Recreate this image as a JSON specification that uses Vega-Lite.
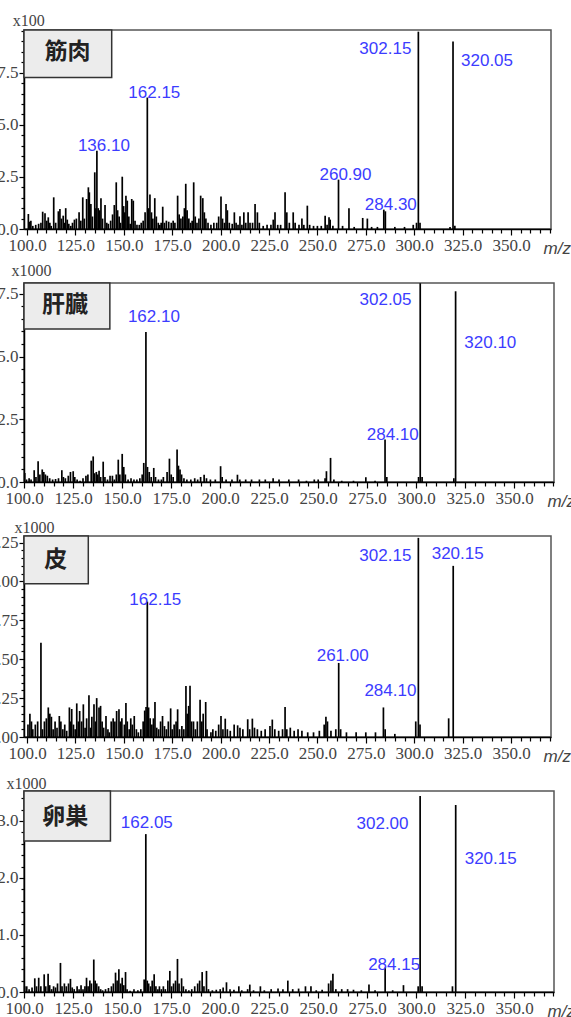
{
  "$schema": "https://vega.github.io/schema/vega-lite/v6.json",
  "padding": {"left": -13, "top": 11, "right": 0, "bottom": 0},
  "bounds": "flush",
  "spacing": 54,
  "config": {
    "view": {"stroke": "#555", "strokeWidth": 1.5},
    "axis": {"grid": false, "domainColor": "#000", "domainWidth": 1.5, "tickColor": "#000", "tickWidth": 1.2,
      "labelFont": "Liberation Sans Narrow", "labelFontSize": 17, "labelColor": "#444", "labelOverlap": false, "labelFlush": false,
      "titleFont": "Liberation Sans Narrow", "titleFontSize": 16, "titleFontWeight": "normal", "titleColor": "#444"},
    "text": {"font": "Liberation Sans", "fontSize": 17, "color": "#3c3cff"}
  },
  "datasets": {
    "peaks": [
      {"tissue":"筋肉","mz":100.7,"intensity":0.72},{"tissue":"筋肉","mz":101.3,"intensity":0.35},{"tissue":"筋肉","mz":102.0,"intensity":0.40},{"tissue":"筋肉","mz":103.0,"intensity":0.15},{"tissue":"筋肉","mz":104.5,"intensity":0.2},{"tissue":"筋肉","mz":106.0,"intensity":0.25},{"tissue":"筋肉","mz":107.2,"intensity":0.3},{"tissue":"筋肉","mz":108.1,"intensity":0.83},{"tissue":"筋肉","mz":109.3,"intensity":0.75},{"tissue":"筋肉","mz":110.2,"intensity":0.4},{"tissue":"筋肉","mz":111.0,"intensity":0.56},{"tissue":"筋肉","mz":111.8,"intensity":0.3},{"tissue":"筋肉","mz":112.5,"intensity":0.15},{"tissue":"筋肉","mz":113.8,"intensity":1.52},{"tissue":"筋肉","mz":114.8,"intensity":0.3},{"tissue":"筋肉","mz":116.2,"intensity":0.85},{"tissue":"筋肉","mz":117.0,"intensity":0.96},{"tissue":"筋肉","mz":117.8,"intensity":0.5},{"tissue":"筋肉","mz":118.7,"intensity":0.64},{"tissue":"筋肉","mz":119.4,"intensity":0.3},{"tissue":"筋肉","mz":120.0,"intensity":1.0},{"tissue":"筋肉","mz":120.8,"intensity":0.45},{"tissue":"筋肉","mz":121.6,"intensity":0.25},{"tissue":"筋肉","mz":122.6,"intensity":0.15},{"tissue":"筋肉","mz":123.5,"intensity":0.3},{"tissue":"筋肉","mz":124.5,"intensity":0.45},{"tissue":"筋肉","mz":125.5,"intensity":0.5},{"tissue":"筋肉","mz":126.9,"intensity":0.8},{"tissue":"筋肉","mz":127.8,"intensity":0.4},{"tissue":"筋肉","mz":128.8,"intensity":1.52},{"tissue":"筋肉","mz":129.6,"intensity":0.5},{"tissue":"筋肉","mz":130.8,"intensity":1.44},{"tissue":"筋肉","mz":131.7,"intensity":2.0},{"tissue":"筋肉","mz":132.2,"intensity":1.76},{"tissue":"筋肉","mz":133.0,"intensity":1.2},{"tissue":"筋肉","mz":133.8,"intensity":0.6},{"tissue":"筋肉","mz":135.0,"intensity":2.72},{"tissue":"筋肉","mz":135.6,"intensity":1.0},{"tissue":"筋肉","mz":136.1,"intensity":3.76},{"tissue":"筋肉","mz":136.8,"intensity":1.0},{"tissue":"筋肉","mz":137.5,"intensity":0.9},{"tissue":"筋肉","mz":138.2,"intensity":1.48},{"tissue":"筋肉","mz":139.0,"intensity":0.5},{"tissue":"筋肉","mz":140.3,"intensity":1.15},{"tissue":"筋肉","mz":141.2,"intensity":0.3},{"tissue":"筋肉","mz":142.0,"intensity":0.25},{"tissue":"筋肉","mz":143.2,"intensity":0.4},{"tissue":"筋肉","mz":144.2,"intensity":0.7},{"tissue":"筋肉","mz":145.1,"intensity":1.15},{"tissue":"筋肉","mz":146.1,"intensity":2.24},{"tissue":"筋肉","mz":146.8,"intensity":0.9},{"tissue":"筋肉","mz":147.6,"intensity":0.6},{"tissue":"筋肉","mz":148.3,"intensity":0.3},{"tissue":"筋肉","mz":149.2,"intensity":2.51},{"tissue":"筋肉","mz":149.9,"intensity":1.1},{"tissue":"筋肉","mz":150.5,"intensity":0.8},{"tissue":"筋肉","mz":151.1,"intensity":1.6},{"tissue":"筋肉","mz":151.8,"intensity":1.36},{"tissue":"筋肉","mz":152.6,"intensity":0.6},{"tissue":"筋肉","mz":153.3,"intensity":0.25},{"tissue":"筋肉","mz":154.1,"intensity":1.44},{"tissue":"筋肉","mz":154.9,"intensity":1.36},{"tissue":"筋肉","mz":155.8,"intensity":0.4},{"tissue":"筋肉","mz":156.8,"intensity":0.2},{"tissue":"筋肉","mz":158.0,"intensity":0.2},{"tissue":"筋肉","mz":159.0,"intensity":0.3},{"tissue":"筋肉","mz":160.0,"intensity":0.4},{"tissue":"筋肉","mz":161.0,"intensity":0.8},{"tissue":"筋肉","mz":162.15,"intensity":6.31},{"tissue":"筋肉","mz":162.8,"intensity":1.0},{"tissue":"筋肉","mz":163.5,"intensity":1.65},{"tissue":"筋肉","mz":164.3,"intensity":0.8},{"tissue":"筋肉","mz":165.0,"intensity":0.5},{"tissue":"筋肉","mz":166.0,"intensity":1.48},{"tissue":"筋肉","mz":166.8,"intensity":0.6},{"tissue":"筋肉","mz":167.8,"intensity":0.3},{"tissue":"筋肉","mz":168.6,"intensity":0.2},{"tissue":"筋肉","mz":169.3,"intensity":0.3},{"tissue":"筋肉","mz":170.1,"intensity":1.07},{"tissue":"筋肉","mz":171.0,"intensity":0.3},{"tissue":"筋肉","mz":172.0,"intensity":0.4},{"tissue":"筋肉","mz":173.2,"intensity":0.35},{"tissue":"筋肉","mz":174.5,"intensity":0.3},{"tissue":"筋肉","mz":175.5,"intensity":0.4},{"tissue":"筋肉","mz":176.4,"intensity":0.3},{"tissue":"筋肉","mz":177.8,"intensity":1.6},{"tissue":"筋肉","mz":178.6,"intensity":0.7},{"tissue":"筋肉","mz":179.5,"intensity":0.5},{"tissue":"筋肉","mz":180.5,"intensity":0.6},{"tissue":"筋肉","mz":181.3,"intensity":1.0},{"tissue":"筋肉","mz":182.0,"intensity":2.17},{"tissue":"筋肉","mz":182.7,"intensity":0.9},{"tissue":"筋肉","mz":183.6,"intensity":0.5},{"tissue":"筋肉","mz":184.5,"intensity":0.3},{"tissue":"筋肉","mz":185.3,"intensity":0.4},{"tissue":"筋肉","mz":186.1,"intensity":2.24},{"tissue":"筋肉","mz":186.9,"intensity":0.6},{"tissue":"筋肉","mz":187.8,"intensity":0.3},{"tissue":"筋肉","mz":188.8,"intensity":0.5},{"tissue":"筋肉","mz":189.7,"intensity":1.6},{"tissue":"筋肉","mz":190.8,"intensity":1.48},{"tissue":"筋肉","mz":191.6,"intensity":0.8},{"tissue":"筋肉","mz":192.4,"intensity":0.5},{"tissue":"筋肉","mz":193.5,"intensity":0.3},{"tissue":"筋肉","mz":195.0,"intensity":0.2},{"tissue":"筋肉","mz":196.5,"intensity":0.3},{"tissue":"筋肉","mz":198.0,"intensity":0.3},{"tissue":"筋肉","mz":199.0,"intensity":0.6},{"tissue":"筋肉","mz":200.2,"intensity":1.56},{"tissue":"筋肉","mz":201.0,"intensity":0.5},{"tissue":"筋肉","mz":202.0,"intensity":0.3},{"tissue":"筋肉","mz":202.8,"intensity":1.2},{"tissue":"筋肉","mz":203.5,"intensity":0.9},{"tissue":"筋肉","mz":204.5,"intensity":0.3},{"tissue":"筋肉","mz":206.0,"intensity":0.25},{"tissue":"筋肉","mz":207.1,"intensity":0.8},{"tissue":"筋肉","mz":208.0,"intensity":0.3},{"tissue":"筋肉","mz":209.0,"intensity":0.2},{"tissue":"筋肉","mz":210.0,"intensity":0.61},{"tissue":"筋肉","mz":211.0,"intensity":0.2},{"tissue":"筋肉","mz":212.0,"intensity":0.8},{"tissue":"筋肉","mz":213.0,"intensity":0.3},{"tissue":"筋肉","mz":214.2,"intensity":0.8},{"tissue":"筋肉","mz":215.2,"intensity":0.3},{"tissue":"筋肉","mz":216.5,"intensity":0.3},{"tissue":"筋肉","mz":217.8,"intensity":1.2},{"tissue":"筋肉","mz":219.0,"intensity":0.8},{"tissue":"筋肉","mz":220.0,"intensity":0.3},{"tissue":"筋肉","mz":222.0,"intensity":0.15},{"tissue":"筋肉","mz":224.0,"intensity":0.2},{"tissue":"筋肉","mz":226.0,"intensity":0.2},{"tissue":"筋肉","mz":227.2,"intensity":0.45},{"tissue":"筋肉","mz":228.1,"intensity":0.8},{"tissue":"筋肉","mz":229.5,"intensity":0.2},{"tissue":"筋肉","mz":231.0,"intensity":0.2},{"tissue":"筋肉","mz":233.3,"intensity":1.76},{"tissue":"筋肉","mz":234.2,"intensity":0.8},{"tissue":"筋肉","mz":235.5,"intensity":0.3},{"tissue":"筋肉","mz":237.5,"intensity":0.8},{"tissue":"筋肉","mz":238.5,"intensity":0.3},{"tissue":"筋肉","mz":240.5,"intensity":0.2},{"tissue":"筋肉","mz":242.0,"intensity":0.5},{"tissue":"筋肉","mz":243.0,"intensity":0.2},{"tissue":"筋肉","mz":244.8,"intensity":1.12},{"tissue":"筋肉","mz":246.0,"intensity":0.2},{"tissue":"筋肉","mz":248.0,"intensity":0.15},{"tissue":"筋肉","mz":250.0,"intensity":0.15},{"tissue":"筋肉","mz":252.0,"intensity":0.15},{"tissue":"筋肉","mz":254.0,"intensity":0.64},{"tissue":"筋肉","mz":255.0,"intensity":0.2},{"tissue":"筋肉","mz":256.0,"intensity":0.56},{"tissue":"筋肉","mz":256.6,"intensity":0.45},{"tissue":"筋肉","mz":258.0,"intensity":0.15},{"tissue":"筋肉","mz":260.9,"intensity":2.37},{"tissue":"筋肉","mz":263.0,"intensity":0.15},{"tissue":"筋肉","mz":266.3,"intensity":0.99},{"tissue":"筋肉","mz":269.0,"intensity":0.1},{"tissue":"筋肉","mz":273.4,"intensity":0.53},{"tissue":"筋肉","mz":275.8,"intensity":0.5},{"tissue":"筋肉","mz":278.0,"intensity":0.1},{"tissue":"筋肉","mz":281.0,"intensity":0.1},{"tissue":"筋肉","mz":284.3,"intensity":0.93},{"tissue":"筋肉","mz":285.1,"intensity":0.85},{"tissue":"筋肉","mz":290.0,"intensity":0.1},{"tissue":"筋肉","mz":295.0,"intensity":0.1},{"tissue":"筋肉","mz":299.5,"intensity":0.2},{"tissue":"筋肉","mz":301.2,"intensity":0.3},{"tissue":"筋肉","mz":302.15,"intensity":9.47},{"tissue":"筋肉","mz":303.0,"intensity":0.3},{"tissue":"筋肉","mz":318.5,"intensity":0.1},{"tissue":"筋肉","mz":320.05,"intensity":9.0},{"tissue":"筋肉","mz":321.0,"intensity":0.15},

      {"tissue":"肝臓","mz":100.3,"intensity":0.36},{"tissue":"肝臓","mz":101.2,"intensity":0.1},{"tissue":"肝臓","mz":102.5,"intensity":0.15},{"tissue":"肝臓","mz":103.5,"intensity":0.1},{"tissue":"肝臓","mz":105.1,"intensity":0.47},{"tissue":"肝臓","mz":106.0,"intensity":0.2},{"tissue":"肝臓","mz":107.1,"intensity":0.83},{"tissue":"肝臓","mz":108.0,"intensity":0.3},{"tissue":"肝臓","mz":109.2,"intensity":0.5},{"tissue":"肝臓","mz":110.0,"intensity":0.4},{"tissue":"肝臓","mz":110.8,"intensity":0.3},{"tissue":"肝臓","mz":111.8,"intensity":0.25},{"tissue":"肝臓","mz":113.0,"intensity":0.15},{"tissue":"肝臓","mz":114.5,"intensity":0.1},{"tissue":"肝臓","mz":116.0,"intensity":0.12},{"tissue":"肝臓","mz":117.5,"intensity":0.15},{"tissue":"肝臓","mz":119.2,"intensity":0.47},{"tissue":"肝臓","mz":120.0,"intensity":0.2},{"tissue":"肝臓","mz":121.0,"intensity":0.15},{"tissue":"肝臓","mz":122.5,"intensity":0.25},{"tissue":"肝臓","mz":123.6,"intensity":0.4},{"tissue":"肝臓","mz":125.0,"intensity":0.43},{"tissue":"肝臓","mz":125.8,"intensity":0.2},{"tissue":"肝臓","mz":127.0,"intensity":0.1},{"tissue":"肝臓","mz":128.5,"intensity":0.05},{"tissue":"肝臓","mz":130.0,"intensity":0.15},{"tissue":"肝臓","mz":131.5,"intensity":0.25},{"tissue":"肝臓","mz":132.5,"intensity":0.3},{"tissue":"肝臓","mz":134.2,"intensity":0.85},{"tissue":"肝臓","mz":135.2,"intensity":1.02},{"tissue":"肝臓","mz":135.9,"intensity":0.35},{"tissue":"肝臓","mz":136.8,"intensity":0.4},{"tissue":"肝臓","mz":137.5,"intensity":0.3},{"tissue":"肝臓","mz":138.2,"intensity":0.45},{"tissue":"肝臓","mz":139.0,"intensity":0.2},{"tissue":"肝臓","mz":140.3,"intensity":0.81},{"tissue":"肝臓","mz":141.2,"intensity":0.2},{"tissue":"肝臓","mz":142.5,"intensity":0.1},{"tissue":"肝臓","mz":143.8,"intensity":0.25},{"tissue":"肝臓","mz":145.0,"intensity":0.25},{"tissue":"肝臓","mz":146.0,"intensity":0.1},{"tissue":"肝臓","mz":147.0,"intensity":0.3},{"tissue":"肝臓","mz":148.0,"intensity":0.89},{"tissue":"肝臓","mz":148.8,"intensity":0.3},{"tissue":"肝臓","mz":150.0,"intensity":1.12},{"tissue":"肝臓","mz":150.8,"intensity":0.6},{"tissue":"肝臓","mz":151.6,"intensity":0.3},{"tissue":"肝臓","mz":153.0,"intensity":0.1},{"tissue":"肝臓","mz":154.5,"intensity":0.15},{"tissue":"肝臓","mz":156.0,"intensity":0.1},{"tissue":"肝臓","mz":157.5,"intensity":0.1},{"tissue":"肝臓","mz":159.0,"intensity":0.15},{"tissue":"肝臓","mz":160.2,"intensity":0.3},{"tissue":"肝臓","mz":161.0,"intensity":0.76},{"tissue":"肝臓","mz":162.1,"intensity":5.98},{"tissue":"肝臓","mz":162.9,"intensity":0.6},{"tissue":"肝臓","mz":163.8,"intensity":0.4},{"tissue":"肝臓","mz":164.8,"intensity":0.2},{"tissue":"肝臓","mz":166.1,"intensity":0.56},{"tissue":"肝臓","mz":167.0,"intensity":0.2},{"tissue":"肝臓","mz":168.5,"intensity":0.1},{"tissue":"肝臓","mz":170.0,"intensity":0.1},{"tissue":"肝臓","mz":171.0,"intensity":0.2},{"tissue":"肝臓","mz":172.9,"intensity":0.4},{"tissue":"肝臓","mz":174.1,"intensity":0.93},{"tissue":"肝臓","mz":175.0,"intensity":0.3},{"tissue":"肝臓","mz":176.0,"intensity":0.2},{"tissue":"肝臓","mz":178.0,"intensity":1.3},{"tissue":"肝臓","mz":178.7,"intensity":0.65},{"tissue":"肝臓","mz":179.5,"intensity":0.5},{"tissue":"肝臓","mz":180.3,"intensity":0.3},{"tissue":"肝臓","mz":181.5,"intensity":0.15},{"tissue":"肝臓","mz":183.0,"intensity":0.1},{"tissue":"肝臓","mz":185.0,"intensity":0.1},{"tissue":"肝臓","mz":187.0,"intensity":0.15},{"tissue":"肝臓","mz":188.5,"intensity":0.1},{"tissue":"肝臓","mz":190.0,"intensity":0.2},{"tissue":"肝臓","mz":191.8,"intensity":0.29},{"tissue":"肝臓","mz":193.0,"intensity":0.15},{"tissue":"肝臓","mz":195.0,"intensity":0.1},{"tissue":"肝臓","mz":197.5,"intensity":0.1},{"tissue":"肝臓","mz":200.2,"intensity":0.63},{"tissue":"肝臓","mz":201.0,"intensity":0.2},{"tissue":"肝臓","mz":203.0,"intensity":0.1},{"tissue":"肝臓","mz":206.0,"intensity":0.1},{"tissue":"肝臓","mz":208.8,"intensity":0.29},{"tissue":"肝臓","mz":210.0,"intensity":0.1},{"tissue":"肝臓","mz":213.0,"intensity":0.1},{"tissue":"肝臓","mz":216.0,"intensity":0.1},{"tissue":"肝臓","mz":220.0,"intensity":0.1},{"tissue":"肝臓","mz":223.0,"intensity":0.1},{"tissue":"肝臓","mz":227.0,"intensity":0.15},{"tissue":"肝臓","mz":230.0,"intensity":0.1},{"tissue":"肝臓","mz":235.0,"intensity":0.1},{"tissue":"肝臓","mz":240.0,"intensity":0.1},{"tissue":"肝臓","mz":244.0,"intensity":0.05},{"tissue":"肝臓","mz":248.0,"intensity":0.1},{"tissue":"肝臓","mz":250.0,"intensity":0.1},{"tissue":"肝臓","mz":253.5,"intensity":0.15},{"tissue":"肝臓","mz":254.2,"intensity":0.43},{"tissue":"肝臓","mz":256.3,"intensity":0.96},{"tissue":"肝臓","mz":258.0,"intensity":0.1},{"tissue":"肝臓","mz":262.0,"intensity":0.05},{"tissue":"肝臓","mz":268.0,"intensity":0.05},{"tissue":"肝臓","mz":274.3,"intensity":0.19},{"tissue":"肝臓","mz":279.0,"intensity":0.05},{"tissue":"肝臓","mz":284.1,"intensity":1.69},{"tissue":"肝臓","mz":285.0,"intensity":0.2},{"tissue":"肝臓","mz":301.2,"intensity":0.2},{"tissue":"肝臓","mz":302.05,"intensity":7.92},{"tissue":"肝臓","mz":303.0,"intensity":0.2},{"tissue":"肝臓","mz":319.2,"intensity":0.15},{"tissue":"肝臓","mz":320.1,"intensity":7.6},

      {"tissue":"皮","mz":100.5,"intensity":0.08},{"tissue":"皮","mz":101.5,"intensity":0.15},{"tissue":"皮","mz":102.3,"intensity":0.1},{"tissue":"皮","mz":103.0,"intensity":0.05},{"tissue":"皮","mz":104.3,"intensity":0.08},{"tissue":"皮","mz":105.5,"intensity":0.1},{"tissue":"皮","mz":107.2,"intensity":0.606},{"tissue":"皮","mz":108.0,"intensity":0.05},{"tissue":"皮","mz":109.0,"intensity":0.1},{"tissue":"皮","mz":110.0,"intensity":0.12},{"tissue":"皮","mz":111.0,"intensity":0.19},{"tissue":"皮","mz":111.8,"intensity":0.15},{"tissue":"皮","mz":112.6,"intensity":0.13},{"tissue":"皮","mz":113.5,"intensity":0.05},{"tissue":"皮","mz":114.5,"intensity":0.1},{"tissue":"皮","mz":115.5,"intensity":0.06},{"tissue":"皮","mz":116.7,"intensity":0.135},{"tissue":"皮","mz":117.5,"intensity":0.1},{"tissue":"皮","mz":118.5,"intensity":0.05},{"tissue":"皮","mz":119.5,"intensity":0.08},{"tissue":"皮","mz":120.5,"intensity":0.04},{"tissue":"皮","mz":121.9,"intensity":0.19},{"tissue":"皮","mz":122.5,"intensity":0.1},{"tissue":"皮","mz":123.1,"intensity":0.18},{"tissue":"皮","mz":124.0,"intensity":0.08},{"tissue":"皮","mz":124.9,"intensity":0.05},{"tissue":"皮","mz":125.7,"intensity":0.216},{"tissue":"皮","mz":126.5,"intensity":0.1},{"tissue":"皮","mz":127.2,"intensity":0.167},{"tissue":"皮","mz":128.2,"intensity":0.1},{"tissue":"皮","mz":129.1,"intensity":0.21},{"tissue":"皮","mz":130.0,"intensity":0.06},{"tissue":"皮","mz":130.8,"intensity":0.12},{"tissue":"皮","mz":132.0,"intensity":0.268},{"tissue":"皮","mz":132.8,"intensity":0.06},{"tissue":"皮","mz":133.5,"intensity":0.13},{"tissue":"皮","mz":134.6,"intensity":0.21},{"tissue":"皮","mz":135.4,"intensity":0.1},{"tissue":"皮","mz":136.0,"intensity":0.25},{"tissue":"皮","mz":137.2,"intensity":0.19},{"tissue":"皮","mz":138.0,"intensity":0.2},{"tissue":"皮","mz":138.8,"intensity":0.1},{"tissue":"皮","mz":139.6,"intensity":0.06},{"tissue":"皮","mz":140.8,"intensity":0.135},{"tissue":"皮","mz":141.8,"intensity":0.05},{"tissue":"皮","mz":142.5,"intensity":0.03},{"tissue":"皮","mz":143.5,"intensity":0.1},{"tissue":"皮","mz":144.5,"intensity":0.12},{"tissue":"皮","mz":145.4,"intensity":0.1},{"tissue":"皮","mz":146.3,"intensity":0.167},{"tissue":"皮","mz":147.5,"intensity":0.178},{"tissue":"皮","mz":148.2,"intensity":0.1},{"tissue":"皮","mz":149.0,"intensity":0.12},{"tissue":"皮","mz":150.3,"intensity":0.08},{"tissue":"皮","mz":151.1,"intensity":0.218},{"tissue":"皮","mz":151.8,"intensity":0.1},{"tissue":"皮","mz":152.8,"intensity":0.05},{"tissue":"皮","mz":153.6,"intensity":0.12},{"tissue":"皮","mz":154.4,"intensity":0.08},{"tissue":"皮","mz":155.4,"intensity":0.135},{"tissue":"皮","mz":156.5,"intensity":0.05},{"tissue":"皮","mz":157.5,"intensity":0.03},{"tissue":"皮","mz":158.8,"intensity":0.05},{"tissue":"皮","mz":160.0,"intensity":0.1},{"tissue":"皮","mz":160.8,"intensity":0.17},{"tissue":"皮","mz":161.5,"intensity":0.193},{"tissue":"皮","mz":162.15,"intensity":0.87},{"tissue":"皮","mz":162.8,"intensity":0.19},{"tissue":"皮","mz":163.6,"intensity":0.12},{"tissue":"皮","mz":164.5,"intensity":0.08},{"tissue":"皮","mz":165.3,"intensity":0.12},{"tissue":"皮","mz":166.1,"intensity":0.225},{"tissue":"皮","mz":167.0,"intensity":0.06},{"tissue":"皮","mz":168.0,"intensity":0.05},{"tissue":"皮","mz":169.0,"intensity":0.1},{"tissue":"皮","mz":170.0,"intensity":0.135},{"tissue":"皮","mz":171.0,"intensity":0.07},{"tissue":"皮","mz":172.0,"intensity":0.05},{"tissue":"皮","mz":173.0,"intensity":0.1},{"tissue":"皮","mz":174.2,"intensity":0.184},{"tissue":"皮","mz":175.0,"intensity":0.05},{"tissue":"皮","mz":176.0,"intensity":0.08},{"tissue":"皮","mz":177.0,"intensity":0.1},{"tissue":"皮","mz":177.8,"intensity":0.178},{"tissue":"皮","mz":178.8,"intensity":0.05},{"tissue":"皮","mz":180.0,"intensity":0.07},{"tissue":"皮","mz":181.0,"intensity":0.05},{"tissue":"皮","mz":182.1,"intensity":0.328},{"tissue":"皮","mz":182.8,"intensity":0.15},{"tissue":"皮","mz":183.5,"intensity":0.2},{"tissue":"皮","mz":184.2,"intensity":0.33},{"tissue":"皮","mz":185.0,"intensity":0.1},{"tissue":"皮","mz":186.0,"intensity":0.1},{"tissue":"皮","mz":187.0,"intensity":0.05},{"tissue":"皮","mz":188.0,"intensity":0.1},{"tissue":"皮","mz":189.4,"intensity":0.24},{"tissue":"皮","mz":190.3,"intensity":0.1},{"tissue":"皮","mz":191.0,"intensity":0.15},{"tissue":"皮","mz":192.3,"intensity":0.225},{"tissue":"皮","mz":193.0,"intensity":0.05},{"tissue":"皮","mz":195.0,"intensity":0.03},{"tissue":"皮","mz":196.0,"intensity":0.05},{"tissue":"皮","mz":197.5,"intensity":0.04},{"tissue":"皮","mz":199.0,"intensity":0.08},{"tissue":"皮","mz":200.2,"intensity":0.135},{"tissue":"皮","mz":201.2,"intensity":0.05},{"tissue":"皮","mz":202.4,"intensity":0.118},{"tissue":"皮","mz":203.5,"intensity":0.05},{"tissue":"皮","mz":205.0,"intensity":0.04},{"tissue":"皮","mz":207.0,"intensity":0.08},{"tissue":"皮","mz":208.8,"intensity":0.075},{"tissue":"皮","mz":210.0,"intensity":0.06},{"tissue":"皮","mz":211.5,"intensity":0.05},{"tissue":"皮","mz":214.0,"intensity":0.114},{"tissue":"皮","mz":215.0,"intensity":0.05},{"tissue":"皮","mz":216.4,"intensity":0.118},{"tissue":"皮","mz":217.5,"intensity":0.06},{"tissue":"皮","mz":219.0,"intensity":0.05},{"tissue":"皮","mz":221.0,"intensity":0.04},{"tissue":"皮","mz":223.0,"intensity":0.05},{"tissue":"皮","mz":225.5,"intensity":0.07},{"tissue":"皮","mz":226.7,"intensity":0.112},{"tissue":"皮","mz":228.0,"intensity":0.05},{"tissue":"皮","mz":230.0,"intensity":0.04},{"tissue":"皮","mz":232.0,"intensity":0.05},{"tissue":"皮","mz":233.3,"intensity":0.193},{"tissue":"皮","mz":234.2,"intensity":0.05},{"tissue":"皮","mz":236.0,"intensity":0.06},{"tissue":"皮","mz":238.0,"intensity":0.04},{"tissue":"皮","mz":240.0,"intensity":0.05},{"tissue":"皮","mz":242.0,"intensity":0.04},{"tissue":"皮","mz":245.0,"intensity":0.03},{"tissue":"皮","mz":248.0,"intensity":0.03},{"tissue":"皮","mz":251.0,"intensity":0.04},{"tissue":"皮","mz":253.5,"intensity":0.08},{"tissue":"皮","mz":254.4,"intensity":0.13},{"tissue":"皮","mz":255.2,"intensity":0.1},{"tissue":"皮","mz":257.0,"intensity":0.04},{"tissue":"皮","mz":259.5,"intensity":0.05},{"tissue":"皮","mz":261.0,"intensity":0.476},{"tissue":"皮","mz":262.0,"intensity":0.05},{"tissue":"皮","mz":265.0,"intensity":0.03},{"tissue":"皮","mz":270.0,"intensity":0.03},{"tissue":"皮","mz":275.0,"intensity":0.03},{"tissue":"皮","mz":280.0,"intensity":0.03},{"tissue":"皮","mz":284.1,"intensity":0.19},{"tissue":"皮","mz":285.0,"intensity":0.05},{"tissue":"皮","mz":290.0,"intensity":0.02},{"tissue":"皮","mz":300.8,"intensity":0.1},{"tissue":"皮","mz":302.15,"intensity":1.28},{"tissue":"皮","mz":303.0,"intensity":0.08},{"tissue":"皮","mz":317.8,"intensity":0.12},{"tissue":"皮","mz":320.15,"intensity":1.1},

      {"tissue":"卵巣","mz":100.3,"intensity":0.1},{"tissue":"卵巣","mz":101.3,"intensity":0.1},{"tissue":"卵巣","mz":102.5,"intensity":0.05},{"tissue":"卵巣","mz":104.0,"intensity":0.08},{"tissue":"卵巣","mz":105.4,"intensity":0.24},{"tissue":"卵巣","mz":106.3,"intensity":0.1},{"tissue":"卵巣","mz":107.4,"intensity":0.25},{"tissue":"卵巣","mz":108.5,"intensity":0.1},{"tissue":"卵巣","mz":110.2,"intensity":0.31},{"tissue":"卵巣","mz":111.0,"intensity":0.1},{"tissue":"卵巣","mz":112.2,"intensity":0.32},{"tissue":"卵巣","mz":113.0,"intensity":0.12},{"tissue":"卵巣","mz":114.0,"intensity":0.05},{"tissue":"卵巣","mz":115.0,"intensity":0.1},{"tissue":"卵巣","mz":116.0,"intensity":0.08},{"tissue":"卵巣","mz":117.0,"intensity":0.15},{"tissue":"卵巣","mz":118.5,"intensity":0.51},{"tissue":"卵巣","mz":119.3,"intensity":0.1},{"tissue":"卵巣","mz":120.5,"intensity":0.15},{"tissue":"卵巣","mz":121.5,"intensity":0.1},{"tissue":"卵巣","mz":122.6,"intensity":0.15},{"tissue":"卵巣","mz":123.6,"intensity":0.23},{"tissue":"卵巣","mz":124.5,"intensity":0.08},{"tissue":"卵巣","mz":125.5,"intensity":0.05},{"tissue":"卵巣","mz":127.0,"intensity":0.1},{"tissue":"卵巣","mz":128.0,"intensity":0.05},{"tissue":"卵巣","mz":129.0,"intensity":0.12},{"tissue":"卵巣","mz":130.0,"intensity":0.05},{"tissue":"卵巣","mz":131.0,"intensity":0.1},{"tissue":"卵巣","mz":131.8,"intensity":0.25},{"tissue":"卵巣","mz":132.6,"intensity":0.1},{"tissue":"卵巣","mz":133.5,"intensity":0.2},{"tissue":"卵巣","mz":134.3,"intensity":0.15},{"tissue":"卵巣","mz":135.5,"intensity":0.57},{"tissue":"卵巣","mz":136.2,"intensity":0.2},{"tissue":"卵巣","mz":137.0,"intensity":0.15},{"tissue":"卵巣","mz":138.0,"intensity":0.1},{"tissue":"卵巣","mz":139.0,"intensity":0.05},{"tissue":"卵巣","mz":140.0,"intensity":0.03},{"tissue":"卵巣","mz":141.5,"intensity":0.05},{"tissue":"卵巣","mz":143.0,"intensity":0.07},{"tissue":"卵巣","mz":144.5,"intensity":0.1},{"tissue":"卵巣","mz":145.5,"intensity":0.15},{"tissue":"卵巣","mz":146.6,"intensity":0.34},{"tissue":"卵巣","mz":147.4,"intensity":0.2},{"tissue":"卵巣","mz":148.3,"intensity":0.4},{"tissue":"卵巣","mz":149.2,"intensity":0.15},{"tissue":"卵巣","mz":150.0,"intensity":0.25},{"tissue":"卵巣","mz":150.8,"intensity":0.12},{"tissue":"卵巣","mz":151.7,"intensity":0.35},{"tissue":"卵巣","mz":152.5,"intensity":0.05},{"tissue":"卵巣","mz":154.0,"intensity":0.02},{"tissue":"卵巣","mz":156.0,"intensity":0.05},{"tissue":"卵巣","mz":158.0,"intensity":0.03},{"tissue":"卵巣","mz":159.5,"intensity":0.05},{"tissue":"卵巣","mz":161.2,"intensity":0.22},{"tissue":"卵巣","mz":162.05,"intensity":2.77},{"tissue":"卵巣","mz":162.8,"intensity":0.2},{"tissue":"卵巣","mz":163.5,"intensity":0.15},{"tissue":"卵巣","mz":164.5,"intensity":0.1},{"tissue":"卵巣","mz":165.3,"intensity":0.2},{"tissue":"卵巣","mz":166.3,"intensity":0.31},{"tissue":"卵巣","mz":167.2,"intensity":0.1},{"tissue":"卵巣","mz":168.2,"intensity":0.05},{"tissue":"卵巣","mz":169.0,"intensity":0.1},{"tissue":"卵巣","mz":170.0,"intensity":0.05},{"tissue":"卵巣","mz":171.0,"intensity":0.1},{"tissue":"卵巣","mz":172.0,"intensity":0.05},{"tissue":"卵巣","mz":173.3,"intensity":0.2},{"tissue":"卵巣","mz":174.3,"intensity":0.37},{"tissue":"卵巣","mz":175.2,"intensity":0.1},{"tissue":"卵巣","mz":176.2,"intensity":0.15},{"tissue":"卵巣","mz":177.2,"intensity":0.2},{"tissue":"卵巣","mz":178.2,"intensity":0.58},{"tissue":"卵巣","mz":179.0,"intensity":0.15},{"tissue":"卵巣","mz":180.3,"intensity":0.24},{"tissue":"卵巣","mz":181.2,"intensity":0.1},{"tissue":"卵巣","mz":182.5,"intensity":0.05},{"tissue":"卵巣","mz":184.0,"intensity":0.03},{"tissue":"卵巣","mz":185.5,"intensity":0.05},{"tissue":"卵巣","mz":187.0,"intensity":0.1},{"tissue":"卵巣","mz":188.5,"intensity":0.15},{"tissue":"卵巣","mz":189.5,"intensity":0.2},{"tissue":"卵巣","mz":190.8,"intensity":0.35},{"tissue":"卵巣","mz":191.7,"intensity":0.1},{"tissue":"卵巣","mz":193.0,"intensity":0.37},{"tissue":"卵巣","mz":194.0,"intensity":0.05},{"tissue":"卵巣","mz":196.0,"intensity":0.03},{"tissue":"卵巣","mz":198.0,"intensity":0.04},{"tissue":"卵巣","mz":200.0,"intensity":0.05},{"tissue":"卵巣","mz":201.5,"intensity":0.08},{"tissue":"卵巣","mz":203.2,"intensity":0.17},{"tissue":"卵巣","mz":205.0,"intensity":0.05},{"tissue":"卵巣","mz":207.0,"intensity":0.04},{"tissue":"卵巣","mz":209.5,"intensity":0.1},{"tissue":"卵巣","mz":211.0,"intensity":0.03},{"tissue":"卵巣","mz":214.0,"intensity":0.05},{"tissue":"卵巣","mz":215.1,"intensity":0.13},{"tissue":"卵巣","mz":217.0,"intensity":0.03},{"tissue":"卵巣","mz":220.5,"intensity":0.1},{"tissue":"卵巣","mz":222.5,"intensity":0.03},{"tissue":"卵巣","mz":226.0,"intensity":0.05},{"tissue":"卵巣","mz":229.5,"intensity":0.06},{"tissue":"卵巣","mz":232.0,"intensity":0.05},{"tissue":"卵巣","mz":234.5,"intensity":0.2},{"tissue":"卵巣","mz":237.0,"intensity":0.05},{"tissue":"卵巣","mz":240.0,"intensity":0.06},{"tissue":"卵巣","mz":243.5,"intensity":0.1},{"tissue":"卵巣","mz":246.3,"intensity":0.1},{"tissue":"卵巣","mz":249.0,"intensity":0.03},{"tissue":"卵巣","mz":252.0,"intensity":0.04},{"tissue":"卵巣","mz":255.3,"intensity":0.15},{"tissue":"卵巣","mz":256.5,"intensity":0.2},{"tissue":"卵巣","mz":257.5,"intensity":0.32},{"tissue":"卵巣","mz":259.0,"intensity":0.05},{"tissue":"卵巣","mz":262.0,"intensity":0.05},{"tissue":"卵巣","mz":265.0,"intensity":0.05},{"tissue":"卵巣","mz":268.0,"intensity":0.04},{"tissue":"卵巣","mz":272.0,"intensity":0.03},{"tissue":"卵巣","mz":275.9,"intensity":0.13},{"tissue":"卵巣","mz":279.0,"intensity":0.03},{"tissue":"卵巣","mz":284.15,"intensity":0.43},{"tissue":"卵巣","mz":288.0,"intensity":0.03},{"tissue":"卵巣","mz":293.5,"intensity":0.12},{"tissue":"卵巣","mz":301.0,"intensity":0.1},{"tissue":"卵巣","mz":302.0,"intensity":3.44},{"tissue":"卵巣","mz":303.0,"intensity":0.1},{"tissue":"卵巣","mz":318.5,"intensity":0.1},{"tissue":"卵巣","mz":320.15,"intensity":3.28}
    ],
    "labels": [
      {"tissue":"筋肉","mz":136.1,"intensity":3.76},{"tissue":"筋肉","mz":162.15,"intensity":6.31},{"tissue":"筋肉","mz":260.9,"intensity":2.37},{"tissue":"筋肉","mz":284.3,"intensity":0.93},{"tissue":"筋肉","mz":302.15,"intensity":9.47},{"tissue":"筋肉","mz":320.05,"intensity":9.0},
      {"tissue":"肝臓","mz":162.1,"intensity":5.98},{"tissue":"肝臓","mz":284.1,"intensity":1.69},{"tissue":"肝臓","mz":302.05,"intensity":7.92},{"tissue":"肝臓","mz":320.1,"intensity":7.6},
      {"tissue":"皮","mz":162.15,"intensity":0.87},{"tissue":"皮","mz":261.0,"intensity":0.476},{"tissue":"皮","mz":284.1,"intensity":0.19},{"tissue":"皮","mz":302.15,"intensity":1.28},{"tissue":"皮","mz":320.15,"intensity":1.1},
      {"tissue":"卵巣","mz":162.05,"intensity":2.77},{"tissue":"卵巣","mz":284.15,"intensity":0.43},{"tissue":"卵巣","mz":302.0,"intensity":3.44},{"tissue":"卵巣","mz":320.15,"intensity":3.28}
    ]
  },
  "vconcat": [
    {
      "width": 527, "height": 199,
      "resolve": {"axis": {"x": "independent", "y": "independent"}},
      "layer": [
        {"data": {"name": "peaks"}, "transform": [{"filter": "datum.tissue === '筋肉'"}],
         "mark": {"type": "rule", "color": "#000", "strokeWidth": 1.7},
         "encoding": {
           "x": {"field": "mz", "type": "quantitative", "scale": {"domain": [98.45, 370.66], "nice": false, "zero": false},
             "axis": {"orient": "bottom", "values": [100,125,150,175,200,225,250,275,300,325,350], "format": ".1f", "tickSize": 6, "labelPadding": 2, "labelDx": 4.5,
               "title": "m/z", "titleFont": "Liberation Sans", "titleFontStyle": "italic", "titleFontSize": 17, "titleX": 519, "titleY": 24, "titleAlign": "left", "titleBaseline": "alphabetic"}},
           "y": {"field": "intensity", "type": "quantitative", "scale": {"domain": [0, 9.55], "nice": false},
             "axis": {"orient": "left", "values": [0,2.5,5,7.5], "format": ".1f", "tickSize": 5, "labelPadding": 1,
               "title": "x100", "titleAngle": 0, "titleX": -11.7, "titleY": -4.7, "titleAlign": "left", "titleBaseline": "alphabetic"}},
           "y2": {"datum": 0}
         }},
        {"data": {"name": "peaks"}, "transform": [{"filter": "datum.tissue === '筋肉'"}],
         "mark": {"type": "point", "opacity": 0},
         "encoding": {
           "x": {"field": "mz", "type": "quantitative", "axis": {"orient": "bottom", "values": [105,110,115,120,130,135,140,145,155,160,165,170,180,185,190,195,205,210,215,220,230,235,240,245,255,260,265,270,280,285,290,295,305,310,315,320,330,335,340,345,355,360,365,370], "tickSize": 4, "labels": false, "domain": false, "title": null}},
           "y": {"field": "intensity", "type": "quantitative", "axis": {"orient": "left", "values": [0.5,1,1.5,2,3,3.5,4,4.5,5.5,6,6.5,7,8,8.5,9,9.5], "tickSize": 3, "labels": false, "domain": false, "title": null}}
         }},
        {"data": {"values": [{"tissue": "筋肉"}]},
         "layer": [
           {"mark": {"type": "rect", "fill": "#ececec", "stroke": "#333", "strokeWidth": 1.5},
            "encoding": {"x": {"datum": 98.45, "type": "quantitative", "axis": null}, "x2": {"datum": 143.75}, "y": {"datum": 9.55, "type": "quantitative", "axis": null}, "y2": {"datum": 7.27}}},
           {"mark": {"type": "text", "font": "Noto Sans CJK JP", "fontSize": 23, "fontWeight": "bold", "color": "#222", "baseline": "middle", "align": "center"},
            "encoding": {"x": {"datum": 120.9, "type": "quantitative", "axis": null}, "y": {"datum": 8.48, "type": "quantitative", "axis": null}, "text": {"field": "tissue"}}}
         ]},
        {"data": {"name": "labels"}, "transform": [{"filter": "datum.tissue === '筋肉'"}],
         "encoding": {"x": {"field": "mz", "type": "quantitative", "axis": null}, "y": {"field": "intensity", "type": "quantitative", "axis": null}, "text": {"field": "mz", "type": "quantitative", "format": ".2f"}},
         "layer": [
           {"transform": [{"filter": "datum.mz < 300"}], "mark": {"type": "text", "align": "center", "baseline": "alphabetic", "dx": 7, "dy": 0}},
           {"transform": [{"filter": "datum.mz > 300 && datum.mz < 310"}], "mark": {"type": "text", "align": "right", "baseline": "alphabetic", "dx": -7, "dy": 22}},
           {"transform": [{"filter": "datum.mz > 310"}], "mark": {"type": "text", "align": "left", "baseline": "alphabetic", "dx": 8, "dy": 25}}
         ]}
      ]
    },
    {
      "width": 530, "height": 199,
      "resolve": {"axis": {"x": "independent", "y": "independent"}},
      "layer": [
        {"data": {"name": "peaks"}, "transform": [{"filter": "datum.tissue === '肝臓'"}],
         "mark": {"type": "rule", "color": "#000", "strokeWidth": 1.7},
         "encoding": {
           "x": {"field": "mz", "type": "quantitative", "scale": {"domain": [99.9, 370.3], "nice": false, "zero": false},
             "axis": {"orient": "bottom", "values": [100,125,150,175,200,225,250,275,300,325,350], "format": ".1f", "tickSize": 6, "labelPadding": 2, "labelDx": 4,
               "title": "m/z", "titleFont": "Liberation Sans", "titleFontStyle": "italic", "titleFontSize": 17, "titleX": 523, "titleY": 24, "titleAlign": "left", "titleBaseline": "alphabetic"}},
           "y": {"field": "intensity", "type": "quantitative", "scale": {"domain": [0, 7.93], "nice": false},
             "axis": {"orient": "left", "values": [0,2.5,5,7.5], "format": ".1f", "tickSize": 5, "labelPadding": 1,
               "title": "x1000", "titleAngle": 0, "titleX": -13, "titleY": -8, "titleAlign": "left", "titleBaseline": "alphabetic"}},
           "y2": {"datum": 0}
         }},
        {"data": {"name": "peaks"}, "transform": [{"filter": "datum.tissue === '肝臓'"}],
         "mark": {"type": "point", "opacity": 0},
         "encoding": {
           "x": {"field": "mz", "type": "quantitative", "axis": {"orient": "bottom", "values": [105,110,115,120,130,135,140,145,155,160,165,170,180,185,190,195,205,210,215,220,230,235,240,245,255,260,265,270,280,285,290,295,305,310,315,320,330,335,340,345,355,360,365,370], "tickSize": 4, "labels": false, "domain": false, "title": null}},
           "y": {"field": "intensity", "type": "quantitative", "axis": {"orient": "left", "values": [0.5,1,1.5,2,3,3.5,4,4.5,5.5,6,6.5,7], "tickSize": 3, "labels": false, "domain": false, "title": null}}
         }},
        {"data": {"values": [{"tissue": "肝臓"}]},
         "layer": [
           {"mark": {"type": "rect", "fill": "#ececec", "stroke": "#333", "strokeWidth": 1.5},
            "encoding": {"x": {"datum": 99.9, "type": "quantitative", "axis": null}, "x2": {"datum": 143.7}, "y": {"datum": 7.93, "type": "quantitative", "axis": null}, "y2": {"datum": 6.1}}},
           {"mark": {"type": "text", "font": "Noto Sans CJK JP", "fontSize": 23, "fontWeight": "bold", "color": "#222", "baseline": "middle", "align": "center"},
            "encoding": {"x": {"datum": 120.8, "type": "quantitative", "axis": null}, "y": {"datum": 7.07, "type": "quantitative", "axis": null}, "text": {"field": "tissue"}}}
         ]},
        {"data": {"name": "labels"}, "transform": [{"filter": "datum.tissue === '肝臓'"}],
         "encoding": {"x": {"field": "mz", "type": "quantitative", "axis": null}, "y": {"field": "intensity", "type": "quantitative", "axis": null}, "text": {"field": "mz", "type": "quantitative", "format": ".2f"}},
         "layer": [
           {"transform": [{"filter": "datum.mz < 200"}], "mark": {"type": "text", "align": "center", "baseline": "alphabetic", "dx": 8, "dy": -10}},
           {"transform": [{"filter": "datum.mz > 200 && datum.mz < 300"}], "mark": {"type": "text", "align": "center", "baseline": "alphabetic", "dx": 7.7, "dy": 0}},
           {"transform": [{"filter": "datum.mz > 300 && datum.mz < 310"}], "mark": {"type": "text", "align": "right", "baseline": "alphabetic", "dx": -8.7, "dy": 22}},
           {"transform": [{"filter": "datum.mz > 310"}], "mark": {"type": "text", "align": "left", "baseline": "alphabetic", "dx": 8.7, "dy": 57}}
         ]}
      ]
    },
    {
      "width": 527, "height": 201,
      "resolve": {"axis": {"x": "independent", "y": "independent"}},
      "layer": [
        {"data": {"name": "peaks"}, "transform": [{"filter": "datum.tissue === '皮'"}],
         "mark": {"type": "rule", "color": "#000", "strokeWidth": 1.7},
         "encoding": {
           "x": {"field": "mz", "type": "quantitative", "scale": {"domain": [98.45, 370.66], "nice": false, "zero": false},
             "axis": {"orient": "bottom", "values": [100,125,150,175,200,225,250,275,300,325,350], "format": ".1f", "tickSize": 6, "labelPadding": 2, "labelDx": 4.5,
               "title": "m/z", "titleFont": "Liberation Sans", "titleFontStyle": "italic", "titleFontSize": 17, "titleX": 519, "titleY": 24, "titleAlign": "left", "titleBaseline": "alphabetic"}},
           "y": {"field": "intensity", "type": "quantitative", "scale": {"domain": [0, 1.292], "nice": false},
             "axis": {"orient": "left", "values": [0,0.25,0.5,0.75,1,1.25], "format": ".2f", "tickSize": 5, "labelPadding": 1,
               "title": "x1000", "titleAngle": 0, "titleX": -10, "titleY": -3.3, "titleAlign": "left", "titleBaseline": "alphabetic"}},
           "y2": {"datum": 0}
         }},
        {"data": {"name": "peaks"}, "transform": [{"filter": "datum.tissue === '皮'"}],
         "mark": {"type": "point", "opacity": 0},
         "encoding": {
           "x": {"field": "mz", "type": "quantitative", "axis": {"orient": "bottom", "values": [105,110,115,120,130,135,140,145,155,160,165,170,180,185,190,195,205,210,215,220,230,235,240,245,255,260,265,270,280,285,290,295,305,310,315,320,330,335,340,345,355,360,365,370], "tickSize": 4, "labels": false, "domain": false, "title": null}},
           "y": {"field": "intensity", "type": "quantitative", "axis": {"orient": "left", "values": [0.05,0.1,0.15,0.2,0.3,0.35,0.4,0.45,0.55,0.6,0.65,0.7,0.8,0.85,0.9,0.95,1.05,1.1,1.15,1.2], "tickSize": 3, "labels": false, "domain": false, "title": null}}
         }},
        {"data": {"values": [{"tissue": "皮"}]},
         "layer": [
           {"mark": {"type": "rect", "fill": "#ececec", "stroke": "#333", "strokeWidth": 1.5},
            "encoding": {"x": {"datum": 98.45, "type": "quantitative", "axis": null}, "x2": {"datum": 131.66}, "y": {"datum": 1.292, "type": "quantitative", "axis": null}, "y2": {"datum": 0.985}}},
           {"mark": {"type": "text", "font": "Noto Sans CJK JP", "fontSize": 23, "fontWeight": "bold", "color": "#222", "baseline": "middle", "align": "center"},
            "encoding": {"x": {"datum": 114.9, "type": "quantitative", "axis": null}, "y": {"datum": 1.136, "type": "quantitative", "axis": null}, "text": {"field": "tissue"}}}
         ]},
        {"data": {"name": "labels"}, "transform": [{"filter": "datum.tissue === '皮'"}],
         "encoding": {"x": {"field": "mz", "type": "quantitative", "axis": null}, "y": {"field": "intensity", "type": "quantitative", "axis": null}, "text": {"field": "mz", "type": "quantitative", "format": ".2f"}},
         "layer": [
           {"transform": [{"filter": "datum.mz < 200"}], "mark": {"type": "text", "align": "center", "baseline": "alphabetic", "dx": 8, "dy": 3}},
           {"transform": [{"filter": "datum.mz > 200 && datum.mz < 270"}], "mark": {"type": "text", "align": "center", "baseline": "alphabetic", "dx": 4, "dy": -2}},
           {"transform": [{"filter": "datum.mz > 270 && datum.mz < 300"}], "mark": {"type": "text", "align": "center", "baseline": "alphabetic", "dx": 7, "dy": -11}},
           {"transform": [{"filter": "datum.mz > 300 && datum.mz < 310"}], "mark": {"type": "text", "align": "right", "baseline": "alphabetic", "dx": -7, "dy": 23}},
           {"transform": [{"filter": "datum.mz > 310"}], "mark": {"type": "text", "align": "center", "baseline": "alphabetic", "dx": 4.5, "dy": -7}}
         ]}
      ]
    },
    {
      "width": 530, "height": 201,
      "resolve": {"axis": {"x": "independent", "y": "independent"}},
      "layer": [
        {"data": {"name": "peaks"}, "transform": [{"filter": "datum.tissue === '卵巣'"}],
         "mark": {"type": "rule", "color": "#000", "strokeWidth": 1.7},
         "encoding": {
           "x": {"field": "mz", "type": "quantitative", "scale": {"domain": [99.9, 370.3], "nice": false, "zero": false},
             "axis": {"orient": "bottom", "values": [100,125,150,175,200,225,250,275,300,325,350], "format": ".1f", "tickSize": 6, "labelPadding": 2, "labelDx": 4,
               "title": "m/z", "titleFont": "Liberation Sans", "titleFontStyle": "italic", "titleFontSize": 17, "titleX": 523, "titleY": 24, "titleAlign": "left", "titleBaseline": "alphabetic"}},
           "y": {"field": "intensity", "type": "quantitative", "scale": {"domain": [0, 3.526], "nice": false},
             "axis": {"orient": "left", "values": [0,1,2,3], "format": ".1f", "tickSize": 5, "labelPadding": 1,
               "title": "x1000", "titleAngle": 0, "titleX": -18, "titleY": -2.7, "titleAlign": "left", "titleBaseline": "alphabetic"}},
           "y2": {"datum": 0}
         }},
        {"data": {"name": "peaks"}, "transform": [{"filter": "datum.tissue === '卵巣'"}],
         "mark": {"type": "point", "opacity": 0},
         "encoding": {
           "x": {"field": "mz", "type": "quantitative", "axis": {"orient": "bottom", "values": [105,110,115,120,130,135,140,145,155,160,165,170,180,185,190,195,205,210,215,220,230,235,240,245,255,260,265,270,280,285,290,295,305,310,315,320,330,335,340,345,355,360,365,370], "tickSize": 4, "labels": false, "domain": false, "title": null}},
           "y": {"field": "intensity", "type": "quantitative", "axis": {"orient": "left", "values": [0.2,0.4,0.6,0.8,1.2,1.4,1.6,1.8,2.2,2.4,2.6,2.8,3.2,3.4], "tickSize": 3, "labels": false, "domain": false, "title": null}}
         }},
        {"data": {"values": [{"tissue": "卵巣"}]},
         "layer": [
           {"mark": {"type": "rect", "fill": "#ececec", "stroke": "#333", "strokeWidth": 1.5},
            "encoding": {"x": {"datum": 99.9, "type": "quantitative", "axis": null}, "x2": {"datum": 144.0}, "y": {"datum": 3.526, "type": "quantitative", "axis": null}, "y2": {"datum": 2.65}}},
           {"mark": {"type": "text", "font": "Noto Sans CJK JP", "fontSize": 23, "fontWeight": "bold", "color": "#222", "baseline": "middle", "align": "center"},
            "encoding": {"x": {"datum": 120.9, "type": "quantitative", "axis": null}, "y": {"datum": 3.075, "type": "quantitative", "axis": null}, "text": {"field": "tissue"}}}
         ]},
        {"data": {"name": "labels"}, "transform": [{"filter": "datum.tissue === '卵巣'"}],
         "encoding": {"x": {"field": "mz", "type": "quantitative", "axis": null}, "y": {"field": "intensity", "type": "quantitative", "axis": null}, "text": {"field": "mz", "type": "quantitative", "format": ".2f"}},
         "layer": [
           {"transform": [{"filter": "datum.mz < 200"}], "mark": {"type": "text", "align": "center", "baseline": "alphabetic", "dx": 1, "dy": -6}},
           {"transform": [{"filter": "datum.mz > 200 && datum.mz < 300"}], "mark": {"type": "text", "align": "center", "baseline": "alphabetic", "dx": 9, "dy": 3}},
           {"transform": [{"filter": "datum.mz > 300 && datum.mz < 310"}], "mark": {"type": "text", "align": "right", "baseline": "alphabetic", "dx": -11.6, "dy": 33}},
           {"transform": [{"filter": "datum.mz > 310"}], "mark": {"type": "text", "align": "left", "baseline": "alphabetic", "dx": 9, "dy": 59}}
         ]}
      ]
    }
  ]
}
